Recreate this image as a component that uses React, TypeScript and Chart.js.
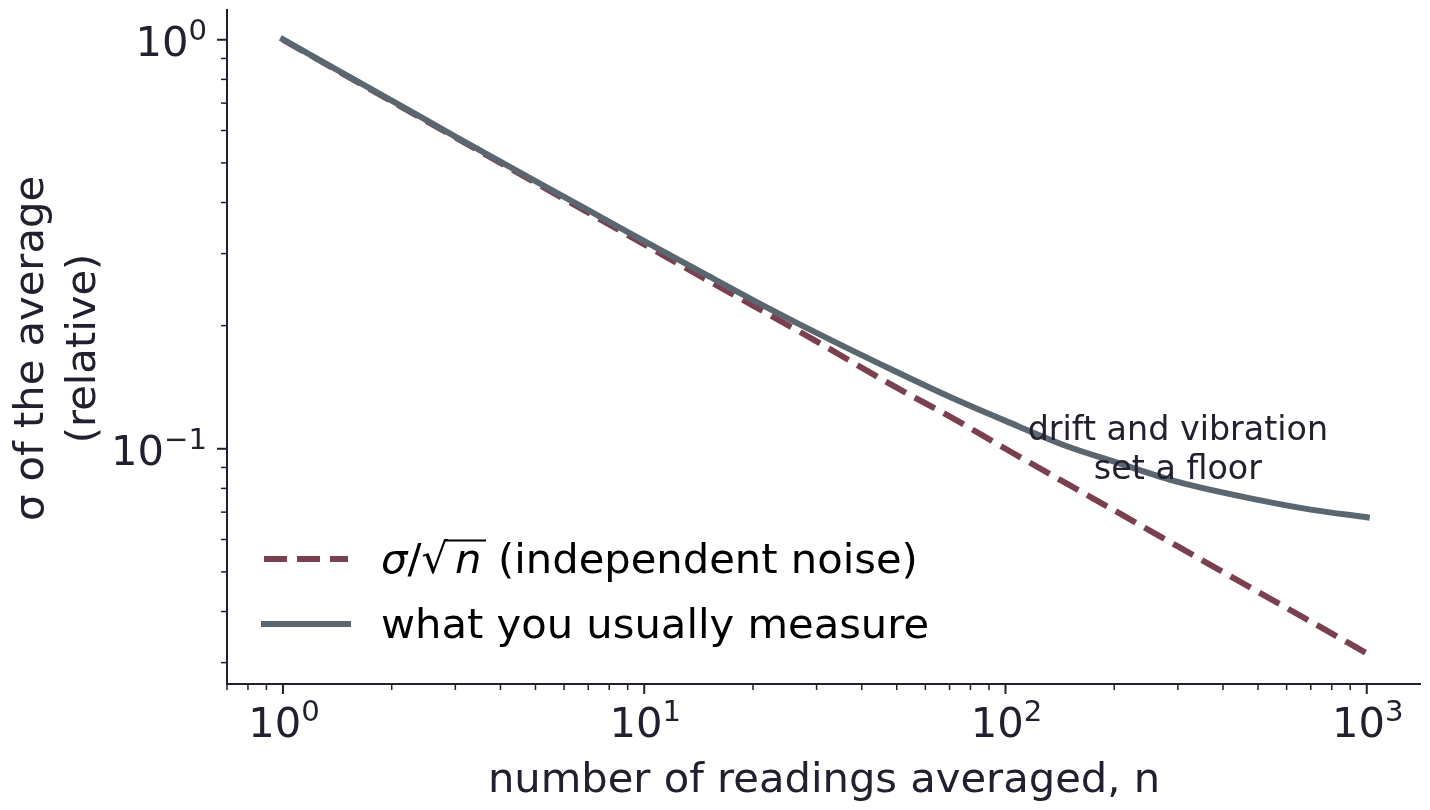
import React, { useEffect, useRef } from "react";
import { Chart, registerables } from "chart.js";

Chart.register(...registerables);

// readings averaged (x) and relative sigma of the average (y)
const readingsN = [1, 2, 3, 5, 7, 10, 15, 20, 30, 50, 70, 100, 150, 200, 300, 500, 700, 1000];
const independentNoise = [
    1.0, 0.707, 0.577, 0.447, 0.378, 0.316, 0.258, 0.224, 0.183, 0.141, 0.12, 0.1, 0.0816,
    0.0707, 0.0577, 0.0447, 0.0378, 0.0316,
];
const measuredNoise = [
    1.002, 0.71, 0.58, 0.451, 0.383, 0.322, 0.265, 0.231, 0.192, 0.154, 0.134, 0.117, 0.101,
    0.093, 0.083, 0.075, 0.071, 0.068,
];

const xMajorTicks = [1, 10, 100, 1000];
const yMajorTicks = [0.1, 1];
const minorSteps = [2, 3, 4, 5, 6, 7, 8, 9];

const legendLabels = ["(independent noise)", "what you usually measure"];
const annotationLines = ["drift and vibration", "set a floor"];
const annotationAt = { x: 300, y: 0.1 };
const xTitle = "number of readings averaged, n";
const yTitle = ["σ of the average", "(relative)"];

const INK = "#20202f";
const DASH_COLOR = "#7a4050";
const SOLID_COLOR = "#5a6670";
const FONT = '"DejaVu Sans", sans-serif';
const BASE = 41.67;

const minorTicks = (min: number, max: number) => {
    const out: number[] = [];
    for (let d = -3; d <= 3; d++) {
        for (const s of minorSteps) {
            const v = s * Math.pow(10, d);
            if (v > min && v < max) out.push(v);
        }
    }
    return out;
};

const expText = (v: number) => {
    const k = Math.round(Math.log10(v));
    return k < 0 ? "\u2212" + Math.abs(k) : String(k);
};

// "10" with a raised exponent, like matplotlib mathtext
const drawPow = (ctx: CanvasRenderingContext2D, v: number, x: number, y: number, align: string) => {
    const exp = expText(v);
    ctx.font = `${BASE}px ${FONT}`;
    const wBase = ctx.measureText("10").width;
    ctx.font = `${BASE * 0.7}px ${FONT}`;
    const wExp = ctx.measureText(exp).width;
    const total = wBase + wExp;
    const left = align === "center" ? x - total / 2 : x - total;
    ctx.textAlign = "left";
    ctx.textBaseline = "alphabetic";
    ctx.font = `${BASE}px ${FONT}`;
    ctx.fillText("10", left, y);
    ctx.font = `${BASE * 0.7}px ${FONT}`;
    ctx.fillText(exp, left + wBase, y - 16);
};

const decorPlugin = {
    id: "decor",
    afterDraw(chart: any) {
        const { ctx, chartArea: ca, scales } = chart;
        const xs = scales.x;
        const ys = scales.y;
        ctx.save();
        ctx.strokeStyle = INK;
        ctx.fillStyle = INK;

        // spines
        ctx.lineWidth = 2;
        ctx.beginPath();
        ctx.moveTo(ca.left, ca.top);
        ctx.lineTo(ca.left, ca.bottom);
        ctx.lineTo(ca.right, ca.bottom);
        ctx.stroke();

        // ticks
        const tick = (x1: number, y1: number, x2: number, y2: number, w: number) => {
            ctx.lineWidth = w;
            ctx.beginPath();
            ctx.moveTo(x1, y1);
            ctx.lineTo(x2, y2);
            ctx.stroke();
        };
        for (const v of xMajorTicks) {
            const px = xs.getPixelForValue(v);
            tick(px, ca.bottom, px, ca.bottom + 10, 2);
            drawPow(ctx, v, px + 1, ca.bottom + 53, "center");
        }
        for (const v of minorTicks(xs.min, xs.max)) {
            const px = xs.getPixelForValue(v);
            tick(px, ca.bottom, px, ca.bottom + 6, 1.5);
        }
        for (const v of yMajorTicks) {
            const py = ys.getPixelForValue(v);
            tick(ca.left, py, ca.left - 10, py, 2);
            drawPow(ctx, v, ca.left - 20, py + 16, "right");
        }
        for (const v of minorTicks(ys.min, ys.max)) {
            const py = ys.getPixelForValue(v);
            tick(ca.left, py, ca.left - 6, py, 1.5);
        }

        // axis titles
        ctx.font = `${BASE}px ${FONT}`;
        ctx.textAlign = "center";
        ctx.textBaseline = "alphabetic";
        ctx.fillText(xTitle, (ca.left + ca.right) / 2, ca.bottom + 108);
        const cy = (ca.top + ca.bottom) / 2 + 2;
        yTitle.forEach((line, i) => {
            ctx.save();
            ctx.translate(ca.left - 184 + i * 52, cy);
            ctx.rotate(-Math.PI / 2);
            ctx.fillText(line, 0, 0);
            ctx.restore();
        });

        // annotation
        ctx.font = `${BASE * 0.8}px ${FONT}`;
        const ax = xs.getPixelForValue(annotationAt.x);
        const ay = ys.getPixelForValue(annotationAt.y);
        annotationLines.forEach((line, i) => {
            ctx.fillText(line, ax, ay - 9 + i * 39);
        });

        // legend
        const hx = ca.left + 37;
        const tx = ca.left + 154;
        const rows = [ca.bottom - 125, ca.bottom - 60];
        ctx.lineWidth = 6;
        ctx.strokeStyle = DASH_COLOR;
        ctx.setLineDash([23, 10]);
        ctx.lineCap = "butt";
        ctx.beginPath();
        ctx.moveTo(hx, rows[0]);
        ctx.lineTo(hx + 84, rows[0]);
        ctx.stroke();
        ctx.setLineDash([]);
        ctx.strokeStyle = SOLID_COLOR;
        ctx.lineCap = "square";
        ctx.beginPath();
        ctx.moveTo(hx, rows[1]);
        ctx.lineTo(hx + 84, rows[1]);
        ctx.stroke();

        // σ/√n in mathtext style, then the plain label
        ctx.fillStyle = "#000";
        ctx.strokeStyle = "#000";
        ctx.textAlign = "left";
        const b0 = rows[0] + 14;
        const italic = `italic ${BASE}px ${FONT}`;
        const upright = `${BASE}px ${FONT}`;
        let cx = tx;
        ctx.font = italic;
        ctx.fillText("σ", cx, b0);
        cx += ctx.measureText("σ").width;
        ctx.font = upright;
        ctx.fillText("/", cx, b0);
        cx += ctx.measureText("/").width;
        ctx.fillText("\u221A", cx, b0);
        const barStart = cx + ctx.measureText("\u221A").width - 3;
        ctx.font = italic;
        ctx.fillText("n", tx + 74, b0);
        ctx.lineWidth = 2.2;
        ctx.lineCap = "butt";
        ctx.beginPath();
        ctx.moveTo(barStart, b0 - 32.5);
        ctx.lineTo(tx + 105, b0 - 32.5);
        ctx.stroke();
        ctx.font = upright;
        ctx.fillText(legendLabels[0], tx + 117, b0);
        ctx.fillText(legendLabels[1], tx, rows[1] + 14);

        ctx.restore();
    },
};

const App = () => {
    const chartRef = useRef<HTMLCanvasElement>(null);

    useEffect(() => {
        document.body.style.margin = "0";
        const ctx = chartRef.current?.getContext("2d");
        if (!ctx) return;

        const myChart = new Chart(ctx, {
            type: "line",
            data: {
                datasets: [
                    {
                        label: "σ/√n (independent noise)",
                        data: readingsN.map((n, i) => ({ x: n, y: independentNoise[i] })),
                        borderColor: DASH_COLOR,
                        backgroundColor: "transparent",
                        borderWidth: 6,
                        borderDash: [23, 10],
                        borderCapStyle: "butt",
                        borderJoinStyle: "round",
                        pointRadius: 0,
                        cubicInterpolationMode: "monotone",
                        order: 1,
                    },
                    {
                        label: "what you usually measure",
                        data: readingsN.map((n, i) => ({ x: n, y: measuredNoise[i] })),
                        borderColor: SOLID_COLOR,
                        backgroundColor: "transparent",
                        borderWidth: 6,
                        borderCapStyle: "square",
                        borderJoinStyle: "round",
                        pointRadius: 0,
                        cubicInterpolationMode: "monotone",
                        order: 0,
                    },
                ],
            },
            options: {
                responsive: true,
                maintainAspectRatio: false,
                animation: false,
                events: [],
                layout: { padding: { top: 9, right: 9, left: 0, bottom: 0 } },
                plugins: {
                    legend: { display: false },
                    tooltip: { enabled: false },
                },
                scales: {
                    x: {
                        type: "logarithmic",
                        min: 0.708,
                        max: 1413,
                        ticks: { display: false },
                        grid: { display: false },
                        border: { display: false },
                        afterFit: (s: any) => {
                            s.height = 126;
                        },
                    },
                    y: {
                        type: "logarithmic",
                        min: 0.0266,
                        max: 1.189,
                        ticks: { display: false },
                        grid: { display: false },
                        border: { display: false },
                        afterFit: (s: any) => {
                            s.width = 227;
                        },
                    },
                },
            },
            plugins: [decorPlugin],
        } as any);

        return () => {
            myChart.destroy();
        };
    }, []);

    return (
        <div style={{ position: "relative", width: 1430, height: 810, background: "#fff" }}>
            <canvas ref={chartRef}></canvas>
        </div>
    );
};

export default App;
